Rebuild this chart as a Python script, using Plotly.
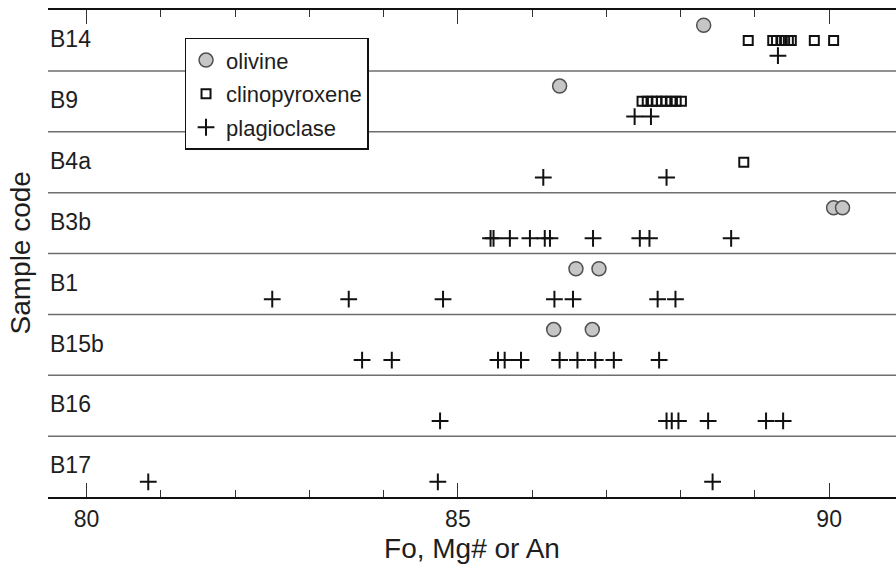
import plotly.graph_objects as go

# Sample codes, top to bottom
samples = ["B14", "B9", "B4a", "B3b", "B1", "B15b", "B16", "B17"]

# Fo (olivine), Mg# (clinopyroxene) and An (plagioclase) per sample
olivine = [
    [88.31],
    [86.37],
    [],
    [90.06, 90.18],
    [86.59, 86.90],
    [86.29, 86.81],
    [],
    [],
]
clinopyroxene = [
    [88.91, 89.24, 89.29, 89.35, 89.40, 89.45, 89.49, 89.80, 90.06],
    [87.48, 87.55, 87.62, 87.68, 87.74, 87.80, 87.87, 87.94, 88.01],
    [88.85],
    [],
    [],
    [],
    [],
    [],
]
plagioclase = [
    [89.31],
    [87.38, 87.60],
    [86.15, 87.81],
    [85.44, 85.48, 85.70, 85.97, 86.17, 86.24, 86.82, 87.45, 87.58, 88.68],
    [82.50, 83.53, 84.80, 86.30, 86.55, 87.69, 87.93],
    [83.71, 84.11, 85.54, 85.63, 85.85, 86.37, 86.61, 86.85, 87.10, 87.71],
    [84.76, 87.81, 87.88, 87.97, 88.37, 89.15, 89.38],
    [80.83, 84.73, 88.43],
]

x_ticks = [80, 85, 90]
x_title = "Fo, Mg# or An"
y_title = "Sample code"

# vertical offset of each mineral inside its sample band
offsets = {"olivine": 0.25, "clinopyroxene": 0.5, "plagioclase": 0.75}

FONT = "Liberation Sans, Arial, sans-serif"
TEXT = "#1e1e1e"


def flatten(values, offset):
    xs, ys = [], []
    for row, vals in enumerate(values):
        for v in vals:
            xs.append(v)
            ys.append(row + offset)
    return xs, ys


fig = go.Figure()

xs, ys = flatten(olivine, offsets["olivine"])
fig.add_trace(go.Scatter(
    x=xs, y=ys, mode="markers", name="olivine", legendgroup="ol",
    marker=dict(symbol="circle", size=14, color="#c6c6c6",
                line=dict(color="#505050", width=1.5)),
))

xs, ys = flatten(clinopyroxene, offsets["clinopyroxene"])
fig.add_trace(go.Scatter(
    x=xs, y=ys, mode="markers", name="clinopyroxene", legendgroup="cpx",
    marker=dict(symbol="square-open", size=9, color="#111111",
                line=dict(color="#111111", width=2)),
))

xs, ys = flatten(plagioclase, offsets["plagioclase"])
fig.add_trace(go.Scatter(
    x=xs, y=ys, mode="markers", name="plagioclase", legendgroup="pl",
    marker=dict(symbol="cross-thin", size=12, color="#111111",
                line=dict(color="#111111", width=2)),
))

# band separators between samples
for i in range(1, len(samples)):
    fig.add_shape(type="line", xref="paper", yref="y", x0=0, x1=1, y0=i, y1=i,
                  line=dict(color="#6e6e6e", width=1.5), layer="below")

# sample code labels
for i, name in enumerate(samples):
    fig.add_annotation(x=0, xref="paper", y=i + 0.48, yref="y", text=name,
                       showarrow=False, xanchor="left", xshift=0,
                       font=dict(family=FONT, size=23, color=TEXT))

# vertical axis title
fig.add_annotation(x=0, xref="paper", y=0.5, yref="paper", text=y_title,
                   textangle=-90, showarrow=False, xanchor="center",
                   yanchor="middle", xshift=-28,
                   font=dict(family=FONT, size=28, color=TEXT))

fig.update_layout(
    width=896, height=574,
    margin=dict(l=48, r=0, t=10, b=77),
    paper_bgcolor="white", plot_bgcolor="white",
    font=dict(family=FONT, size=22, color=TEXT),
    showlegend=True,
    legend=dict(
        x=0.161, y=0.943, xanchor="left", yanchor="top",
        bgcolor="white", bordercolor="#111111", borderwidth=1.5,
        font=dict(family=FONT, size=22, color=TEXT),
        traceorder="grouped", tracegroupgap=2,
        itemwidth=30,
    ),
    xaxis=dict(
        range=[79.48, 90.9], tickvals=x_ticks, ticktext=[str(t) for t in x_ticks],
        ticks="inside", ticklen=14, tickwidth=1.2, tickcolor="#333333",
        minor=dict(dtick=1, ticks="inside", ticklen=7, tickwidth=1.2,
                   tickcolor="#333333"),
        showline=True, linecolor="#111111", linewidth=2, mirror="ticks",
        showgrid=False, zeroline=False,
        tickfont=dict(family=FONT, size=23, color=TEXT),
        title=dict(text=x_title, font=dict(family=FONT, size=28, color=TEXT),
                   standoff=8),
    ),
    yaxis=dict(
        range=[len(samples), 0], showticklabels=False, ticks="",
        showgrid=False, zeroline=False, showline=False,
    ),
)

fig.write_html("out.html")
